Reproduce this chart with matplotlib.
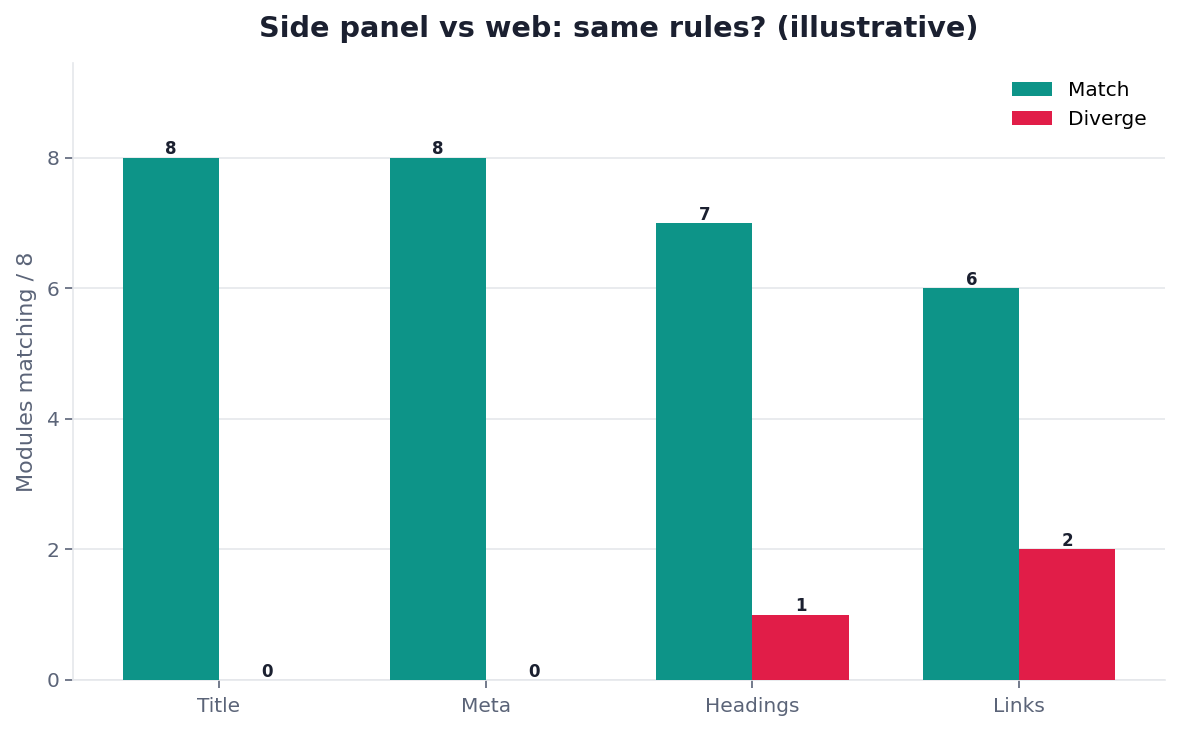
import numpy as np
import matplotlib
matplotlib.use('Agg')
import matplotlib.pyplot as plt

# data
categories = ['Title', 'Meta', 'Headings', 'Links']
match_vals = [8, 8, 7, 6]
diverge_vals = [0, 0, 1, 2]

text_dark = '#1b2030'
text_grey = '#5b6478'
line_grey = '#e5e7eb'

fig = plt.figure(figsize=(11.8, 7.31), dpi=100)
ax = fig.add_axes([0.0619, 0.0698, 0.9254, 0.844])

x = np.arange(len(categories))
w = 0.36
b1 = ax.bar(x - w / 2, match_vals, w, color='#0d9488', label='Match', zorder=3)
b2 = ax.bar(x + w / 2, diverge_vals, w, color='#e11d48', label='Diverge', zorder=3)

# value labels on top of bars
for bars in (b1, b2):
    ax.bar_label(bars, padding=-0.5, fontsize=12, fontweight='bold', color=text_dark)

ax.set_xticks(x)
ax.set_xticklabels(categories)
ax.set_ylim(0, 9.45)
ax.set_yticks([0, 2, 4, 6, 8])
ax.tick_params(axis='both', labelsize=14.5, colors=text_grey, length=6, width=1.2)
ax.tick_params(axis='x', pad=6)
ax.set_ylabel('Modules matching / 8', fontsize=16, color=text_grey, labelpad=7)
ax.set_title('Side panel vs web: same rules? (illustrative)', fontsize=20.7,
             fontweight='bold', color=text_dark, pad=19)

ax.grid(axis='y', color=line_grey, linewidth=1.2, zorder=0)
for s in ['top', 'right']:
    ax.spines[s].set_visible(False)
for s in ['left', 'bottom']:
    ax.spines[s].set_color(line_grey)
    ax.spines[s].set_linewidth(1.2)

ax.legend(loc='upper right', frameon=False, fontsize=14.5, handlelength=2.0)

fig.savefig('out.png', dpi=100)
